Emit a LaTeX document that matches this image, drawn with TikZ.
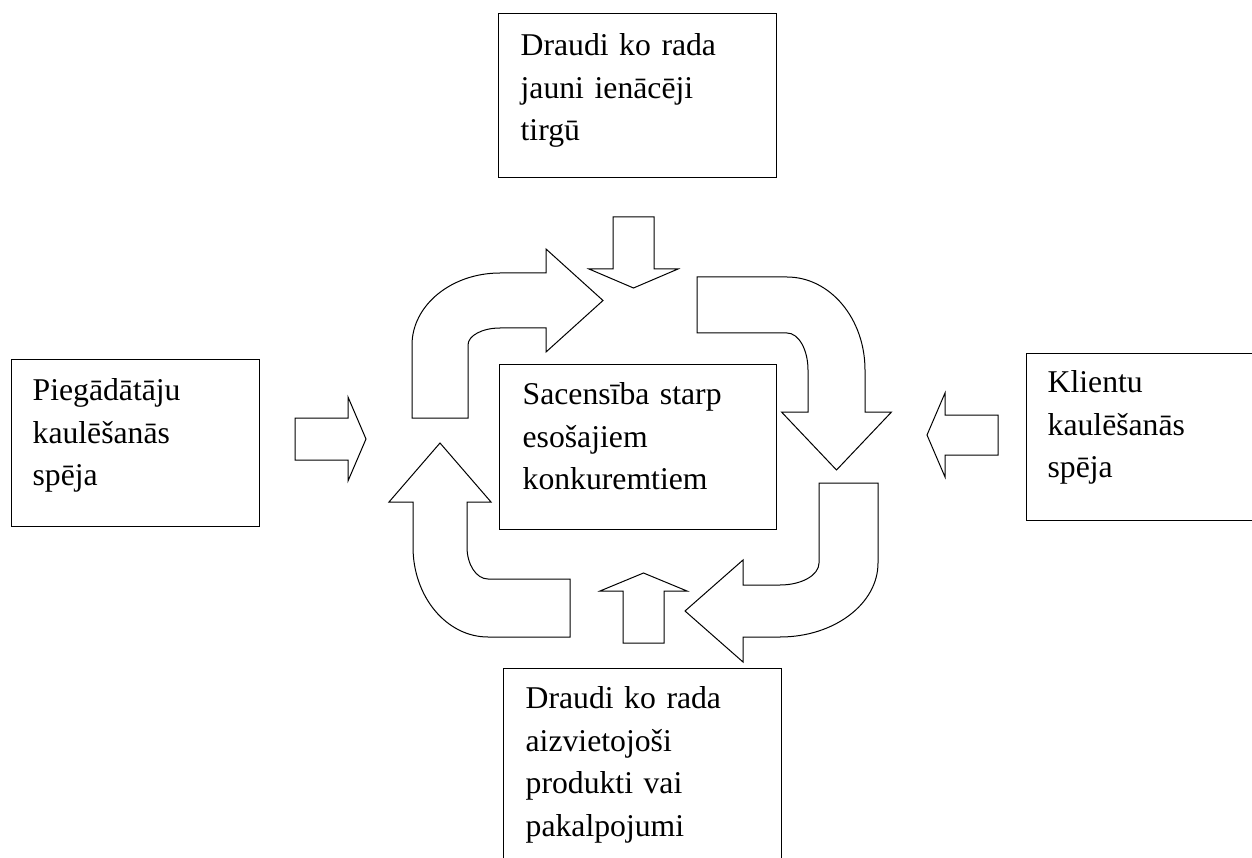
\documentclass[tikz,border=0pt]{standalone}
\usepackage{fontspec}
\setmainfont{Liberation Serif}

\begin{document}
\begin{tikzpicture}[
  x=1pt, y=-1pt,
  font=\fontsize{31.7}{42.5}\selectfont,
  box/.style={draw, line width=1.3pt, anchor=north west, align=left, inner xsep=22pt, inner ysep=0pt},
  blockarr/.style={draw, line width=1pt, line join=miter, fill=white}
]
\useasboundingbox (0,0) rectangle (1252,858);
\clip (0,0) rectangle (1252,858);
\fill[white] (0,0) rectangle (1252,858);
% the five forces
\node[box, text width=234pt, text height=42pt, text depth=122pt] (entrants) at (498,13) {Draudi ko rada\\ jauni ienācēji\\ tirgū};
\node[box, inner xsep=21pt, text width=206pt, text height=41pt, text depth=126pt] (suppliers) at (11,359) {Piegādātāju\\ kaulēšanās\\ spēja};
\node[box, inner xsep=23pt, text width=231pt, text height=40pt, text depth=125pt] (rivalry) at (499,364) {Sacensība starp\\ esošajiem\\ konkuremtiem};
\node[box, inner xsep=21pt, text width=220pt, text height=39pt, text depth=128pt] (buyers) at (1026,353) {Klientu\\ kaulēšanās\\ spēja};
\node[box, text width=234pt, text height=40pt, text depth=230pt] (substitutes) at (503,668) {Draudi ko rada\\ aizvietojoši\\ produkti vai\\ pakalpojumi};
% straight block arrows
\draw[blockarr] (613,217) -- (654,217) -- (654,269) -- (678,269) -- (633.5,288) -- (589,269) -- (613,269) -- cycle;
\draw[blockarr] (623,643) -- (664,643) -- (664,591) -- (687,591) -- (643.5,573) -- (600,591) -- (623,591) -- cycle;
\draw[blockarr] (295,418) -- (348,418) -- (348,397) -- (366,439) -- (348,481) -- (348,460) -- (295,460) -- cycle;
\draw[blockarr] (998,415) -- (945,415) -- (945,393) -- (927,435) -- (945,477) -- (945,455) -- (998,455) -- cycle;
% curved block arrows of the rivalry circle
\draw[blockarr] (412,418) -- (412,345) arc[start angle=180, end angle=270, x radius=88, y radius=72]
  -- (546,273) -- (546,249) -- (603,300.5) -- (546,352) -- (546,328) -- (500,328)
  arc[start angle=270, end angle=180, x radius=32, y radius=17] -- (468,418) -- cycle;
\draw[blockarr] (697,277) -- (787,277) arc[start angle=270, end angle=360, x radius=78, y radius=93]
  -- (865,412) -- (891.5,412) -- (836.5,470) -- (781.5,412) -- (808,412) -- (808,370)
  arc[start angle=0, end angle=-90, x radius=21, y radius=37] -- (697,333) -- cycle;
\draw[blockarr] (819,483) -- (878,483) -- (878,563) arc[start angle=0, end angle=90, x radius=98, y radius=74]
  -- (743,637) -- (743,662) -- (685,611) -- (743,560) -- (743,585) -- (780,585)
  arc[start angle=90, end angle=0, x radius=39, y radius=22] -- cycle;
\draw[blockarr] (570,579) -- (570,637) -- (488,637) arc[start angle=90, end angle=180, x radius=75, y radius=90]
  -- (413,502) -- (389,502) -- (440,443) -- (491,502) -- (467,502) -- (467,547)
  arc[start angle=180, end angle=90, x radius=21, y radius=32] -- cycle;
\end{tikzpicture}
\end{document}
